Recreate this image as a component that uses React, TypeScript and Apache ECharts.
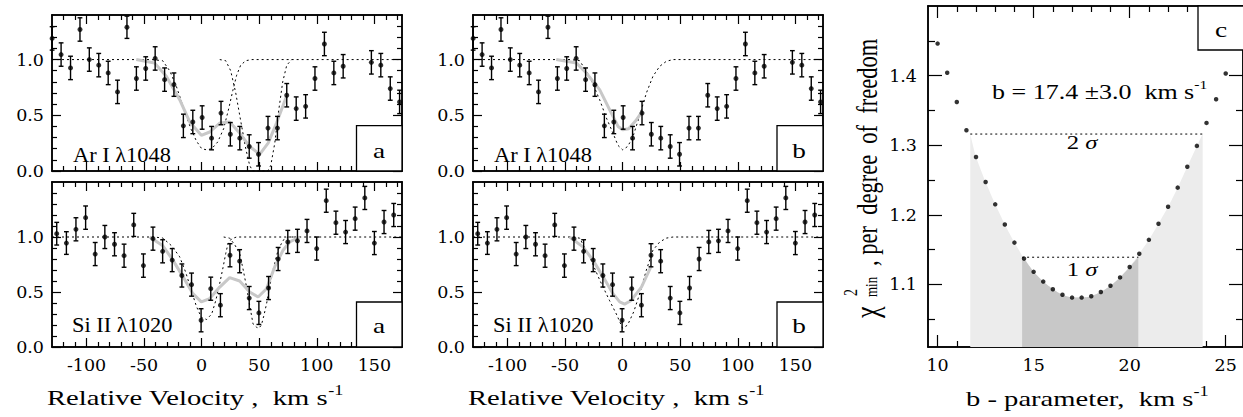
import React, { useEffect, useRef } from 'react';
import * as echarts from 'echarts';

// ---------- axes ----------
const VEL_MIN = -130;
const VEL_MAX = 174;
const velMajor = [-100, -50, 0, 50, 100, 150];
const velMinor = [-120, -110, -90, -80, -70, -60, -40, -30, -20, -10, 10, 20, 30, 40, 60, 70, 80, 90, 110, 120, 130, 140, 160, 170];
const fluxMajor = [0, 0.5, 1.0];
const fluxMinorTop = [0.1, 0.2, 0.3, 0.4, 0.6, 0.7, 0.8, 0.9, 1.1, 1.2, 1.3];
const fluxMinorBottom = [0.1, 0.2, 0.3, 0.4, 0.6, 0.7, 0.8, 0.9, 1.1, 1.2, 1.3, 1.4];
const bMajor = [10, 15, 20, 25];
const bMinor = [11, 12, 13, 14, 16, 17, 18, 19, 21, 22, 23, 24];
const chiMajor = [1.1, 1.2, 1.3, 1.4];
const chiMinor = [1.05, 1.15, 1.25, 1.35, 1.45];

// ---------- Ar I 1048 data ----------
const arVel = [-129.9, -122.1, -113.9, -105.7, -97.6, -89.4, -81.2, -73.1, -64.9, -56.7, -48.6, -40.4, -32.2, -24.1, -15.9, -7.7, 0.4, 8.6, 16.8, 24.9, 33.1, 41.3, 49.4, 57.6, 65.8, 73.9, 82.1, 90.3, 98.4, 106.6, 114.8, 122.9, 131.1, 139.3, 147.4, 155.6, 163.8, 171.9];
const arFlux = [1.19, 1.045, 0.925, 1.27, 1.0, 0.95, 0.88, 0.71, 1.29, 0.83, 0.92, 1.01, 0.82, 0.775, 0.405, 0.44, 0.48, 0.295, 0.52, 0.33, 0.295, 0.22, 0.15, 0.385, 0.385, 0.68, 0.56, 0.58, 0.83, 1.14, 0.88, 0.94, null, null, 0.975, 0.95, 0.74, 0.62];
const arErr = [0.105, 0.105, 0.105, 0.105, 0.105, 0.105, 0.105, 0.105, 0.1, 0.105, 0.105, 0.105, 0.105, 0.105, 0.105, 0.105, 0.105, 0.105, 0.105, 0.105, 0.105, 0.105, 0.105, 0.105, 0.105, 0.105, 0.105, 0.105, 0.105, 0.105, 0.105, 0.105, 0.105, 0.105, 0.105, 0.105, 0.105, 0.105];

// ---------- Si II 1020 data ----------
const siVel = [-125.9, -117.5, -109.2, -100.8, -92.5, -84.1, -75.7, -67.4, -59.0, -50.6, -42.3, -33.9, -25.6, -17.2, -8.8, -0.5, 7.9, 16.3, 24.6, 33.0, 41.3, 49.7, 58.1, 66.4, 74.8, 83.2, 91.5, 99.9, 108.2, 116.6, 125.0, 133.3, 141.7, 150.0, 158.4, 166.8];
const siFlux = [1.03, 0.945, 1.07, 1.176, 0.845, 1.0, 0.934, 0.83, 1.11, 0.74, 0.985, 0.87, 0.79, 0.65, 0.567, 0.243, 0.53, 0.38, 0.834, 0.78, 0.445, 0.31, 0.536, 0.8, 0.955, 0.965, 1.055, 0.895, 1.33, 1.13, 1.045, 1.167, 1.355, 0.945, 1.136, 1.2];
const siErr = [0.103, 0.103, 0.105, 0.106, 0.105, 0.105, 0.105, 0.105, 0.105, 0.106, 0.105, 0.105, 0.105, 0.105, 0.105, 0.105, 0.105, 0.105, 0.105, 0.105, 0.105, 0.105, 0.105, 0.105, 0.105, 0.105, 0.105, 0.105, 0.105, 0.105, 0.105, 0.105, 0.105, 0.105, 0.105, 0.105];

// ---------- model (a): two components ----------
const arC1Vel = [-130, -43.5, -33.9, -27.8, -22, -17.4, -13.3, -9, -4.6, 0, 4.3, 8.7, 13.9, 19.1, 23.5, 27, 30.4, 33.9, 38.3, 43.5, 174];
const arC1Flux = [1.0, 1.0, 0.99, 0.9, 0.76, 0.62, 0.49, 0.37, 0.27, 0.2, 0.19, 0.2, 0.26, 0.38, 0.56, 0.72, 0.86, 0.95, 0.99, 1.0, 1.0];
const arC2Vel = [15.7, 20.9, 25.2, 29.6, 33.9, 38.3, 41.7, 44.3, 57.4, 60, 63.5, 67, 70.4, 73.9, 78.3];
const arC2Flux = [1.0, 0.99, 0.9, 0.7, 0.45, 0.2, 0.05, 0.0, 0.0, 0.05, 0.25, 0.55, 0.8, 0.95, 1.0];
const arFitAVel = [-56.8, -40.9, -30.7, -19.1, -10.4, -0.3, 7, 15.7, 24.3, 33, 41.7, 50.4, 57.7, 65, 73.7];
const arFitAFlux = [1.0, 0.97, 0.85, 0.64, 0.44, 0.32, 0.35, 0.43, 0.44, 0.34, 0.22, 0.15, 0.25, 0.43, 0.67];

const siC1Vel = [-130, -40.9, -33.7, -26.1, -19.1, -13.9, -9, -4.6, -0.3, 4.3, 8.7, 12.2, 15.7, 18.5, 20.9, 22.9, 26.1, 30.4, 174];
const siC1Flux = [1.0, 1.0, 0.99, 0.92, 0.82, 0.68, 0.515, 0.37, 0.27, 0.25, 0.3, 0.42, 0.58, 0.72, 0.85, 0.94, 0.985, 1.0, 1.0];
const siC2Vel = [19.1, 24.3, 28.7, 33, 36.1, 38.9, 41.7, 44.6, 47.6, 49.6, 51.9, 53.9, 56.3, 59.1, 62, 66.3, 70.7, 75, 80.9];
const siC2Flux = [1.0, 0.99, 0.93, 0.85, 0.7, 0.55, 0.38, 0.21, 0.18, 0.17, 0.2, 0.28, 0.39, 0.55, 0.7, 0.88, 0.97, 1.0, 1.0];
const siFitAVel = [-45.2, -33.7, -25, -16.3, -7.6, -0.3, 7, 15.7, 24.3, 33, 41.7, 49, 56.3, 63.5, 70.7, 76.5, 85.2];
const siFitAFlux = [1.0, 0.92, 0.79, 0.64, 0.485, 0.41, 0.44, 0.545, 0.63, 0.6, 0.5, 0.455, 0.53, 0.73, 0.88, 0.955, 1.0];

// ---------- model (b): one component ----------
const arPrBVel = [-130, -45.2, -37.4, -28.7, -20, -14.3, -8.4, -4.1, 0, 4.3, 8.7, 14.8, 20.6, 26.3, 32.2, 38, 43.7, 174];
const arPrBFlux = [1.0, 1.0, 0.99, 0.85, 0.64, 0.48, 0.34, 0.23, 0.19, 0.22, 0.3, 0.5, 0.7, 0.85, 0.94, 0.985, 1.0, 1.0];
const arFitBVel = [-57.7, -40.3, -31.6, -20, -11.3, -4, 0, 5.2, 11.3, 16];
const arFitBFlux = [1.0, 0.97, 0.88, 0.73, 0.55, 0.4, 0.37, 0.38, 0.45, 0.52];

const siPrBVel = [-130, -45.2, -37.4, -28.7, -20, -11.3, -5.5, 0, 4.3, 9.6, 14.8, 20.6, 26.3, 32.2, 38, 43.7, 174];
const siPrBFlux = [1.0, 1.0, 0.99, 0.82, 0.61, 0.42, 0.3, 0.17, 0.2, 0.32, 0.485, 0.7, 0.88, 0.955, 0.99, 1.0, 1.0];
const siFitBVel = [-46.1, -34.5, -25.8, -17.1, -8.4, -2.6, 1.7, 7, 16.3, 25];
const siFitBFlux = [1.0, 0.91, 0.79, 0.64, 0.485, 0.41, 0.39, 0.42, 0.545, 0.74];

// ---------- panel c ----------
const bParam = [10, 10.5, 11, 11.5, 12, 12.5, 13, 13.5, 14, 14.5, 15, 15.5, 16, 16.5, 17, 17.5, 18, 18.5, 19, 19.5, 20, 20.5, 21, 21.5, 22, 22.5, 23, 23.5, 24, 24.5, 25];
const chi2 = [1.446, 1.404, 1.362, 1.3215, 1.283, 1.247, 1.215, 1.186, 1.16, 1.137, 1.118, 1.104, 1.093, 1.085, 1.081, 1.081, 1.083, 1.089, 1.098, 1.11, 1.125, 1.144, 1.164, 1.187, 1.2115, 1.239, 1.269, 1.299, 1.332, 1.366, 1.403];
const sigma2Level = 1.316;
const sigma2Range = [11.7, 23.8];
const sigma1Level = 1.139;
const sigma1Range = [14.4, 20.45];

const FT = "'DejaVu Serif', serif"; // tick labels
const FS = "'Liberation Serif', 'Times New Roman', serif"; // annotations
const SX = 1.3; // horizontal stretch of the original lettering

function axes4(dim: 'x' | 'y', grid: number, min: number, max: number, major: number[], minor: number[], showLabel: boolean, majLen: number, minLen: number, fmt: (v: number) => string, margin: number) {
  const sides = dim === 'x' ? ['bottom', 'top'] : ['left', 'right'];
  const out: any[] = [];
  for (const side of sides) {
    for (const isMajor of [true, false]) {
      out.push({
        type: 'value', gridIndex: grid, min, max, position: side,
        axisLine: { show: true, onZero: false, lineStyle: { color: '#000', width: 1.5 } },
        axisTick: { show: true, inside: true, length: isMajor ? majLen : minLen, customValues: isMajor ? major : minor, lineStyle: { color: '#000', width: 1.2 } },
        axisLabel: { show: showLabel && isMajor && side === sides[0], customValues: major, formatter: fmt, color: '#000', fontFamily: FT, fontSize: 17.5, margin },
        splitLine: { show: false }, splitArea: { show: false },
      });
    }
  }
  return out;
}

function pairs(xs: number[], ys: (number | null)[]) {
  return xs.map((x, i) => [x, ys[i]]);
}

function lineS(p: number, xs: number[], ys: number[], style: any, z: number) {
  return { type: 'line', xAxisIndex: 4 * p, yAxisIndex: 4 * p, data: pairs(xs, ys), showSymbol: false, symbol: 'none', lineStyle: style, z, silent: true };
}

const dotted = { color: '#000', width: 1, type: [2, 3] };
const grayFit = { color: '#c8c8c8', width: 3 };

function errS(p: number, xs: number[], ys: (number | null)[], es: number[]) {
  const data = xs.map((x, i) => [x, ys[i], es[i]]).filter((d) => d[1] != null);
  return {
    type: 'custom', xAxisIndex: 4 * p, yAxisIndex: 4 * p, data, z: 5, silent: true,
    encode: { x: 0, y: 1 },
    renderItem: (params: any, api: any) => {
      const x = api.value(0), y = api.value(1), e = api.value(2);
      const t = api.coord([x, y + e]);
      const b = api.coord([x, y - e]);
      const w = 2.4;
      const st = { stroke: '#000', lineWidth: 1.4 };
      return {
        type: 'group', children: [
          { type: 'line', shape: { x1: t[0], y1: t[1], x2: b[0], y2: b[1] }, style: st },
          { type: 'line', shape: { x1: t[0] - w, y1: t[1], x2: t[0] + w, y2: t[1] }, style: st },
          { type: 'line', shape: { x1: b[0] - w, y1: b[1], x2: b[0] + w, y2: b[1] }, style: st },
        ],
      };
    },
  };
}

function ptS(p: number, xs: number[], ys: (number | null)[], size: number) {
  return { type: 'scatter', xAxisIndex: 4 * p, yAxisIndex: 4 * p, data: pairs(xs, ys).filter((d) => d[1] != null), symbol: 'circle', symbolSize: size, itemStyle: { color: '#000' }, z: 6, silent: true };
}

function txt(x: number, y: number, text: string, size: number, align = 'left', rich?: any, sx = SX) {
  return {
    type: 'text', x, y, z: 100, scaleX: sx,
    style: { text, fontFamily: FS, fontSize: size, fill: '#000', align, textAlign: align, verticalAlign: 'middle', textVerticalAlign: 'middle', rich },
  };
}

function box(x: number, y: number, w: number, h: number) {
  return { type: 'rect', z: 99, shape: { x, y, width: w, height: h }, style: { fill: '#fff', stroke: '#000', lineWidth: 1.3 } };
}

function supRich(size: number) {
  return {
    n: { fontFamily: FS, fontSize: size, lineHeight: size + 6, verticalAlign: 'middle' },
    s: { fontFamily: FS, fontSize: Math.round(size * 0.62), lineHeight: size + 6, verticalAlign: 'top' },
  };
}

function buildOption() {
  const grids = [
    { left: 52, top: 15, width: 350, height: 156 },
    { left: 52, top: 182, width: 350, height: 165 },
    { left: 473, top: 15, width: 350, height: 156 },
    { left: 473, top: 182, width: 350, height: 165 },
    { left: 928, top: 6, width: 317, height: 341 },
  ];
  const f1 = (v: number) => v.toFixed(1);
  const f0 = (v: number) => String(v);
  const xAxis: any[] = [];
  const yAxis: any[] = [];
  for (let p = 0; p < 4; p++) {
    const bottom = p % 2 === 1;
    xAxis.push(...axes4('x', p, VEL_MIN, VEL_MAX, velMajor, velMinor, bottom, 9, 5, f0, 9));
    yAxis.push(...axes4('y', p, 0, bottom ? 1.5 : 1.4, fluxMajor, bottom ? fluxMinorBottom : fluxMinorTop, true, 9, 5, f1, 8));
  }
  xAxis.push(...axes4('x', 4, 9.5, 25.9, bMajor, bMinor, true, 12, 6, f0, 9));
  yAxis.push(...axes4('y', 4, 1.01, 1.5, chiMajor, chiMinor, true, 14, 7, f1, 11));

  const series: any[] = [];
  series.push(lineS(0, arC1Vel, arC1Flux, dotted, 2), lineS(0, arC2Vel, arC2Flux, dotted, 2), lineS(0, arFitAVel, arFitAFlux, grayFit, 3));
  series.push(errS(0, arVel, arFlux, arErr), ptS(0, arVel, arFlux, 5));
  series.push(lineS(1, siC1Vel, siC1Flux, dotted, 2), lineS(1, siC2Vel, siC2Flux, dotted, 2), lineS(1, siFitAVel, siFitAFlux, grayFit, 3));
  series.push(errS(1, siVel, siFlux, siErr), ptS(1, siVel, siFlux, 5));
  series.push(lineS(2, arPrBVel, arPrBFlux, dotted, 2), lineS(2, arFitBVel, arFitBFlux, grayFit, 3));
  series.push(errS(2, arVel, arFlux, arErr), ptS(2, arVel, arFlux, 5));
  series.push(lineS(3, siPrBVel, siPrBFlux, dotted, 2), lineS(3, siFitBVel, siFitBFlux, grayFit, 3));
  series.push(errS(3, siVel, siFlux, siErr), ptS(3, siVel, siFlux, 5));

  const lightArea: number[][] = [[sigma2Range[0], sigma2Level]];
  const darkArea: number[][] = [[sigma1Range[0], sigma1Level]];
  bParam.forEach((b, i) => {
    if (b > sigma2Range[0] && b < sigma2Range[1]) lightArea.push([b, chi2[i]]);
    if (b > sigma1Range[0] && b < sigma1Range[1]) darkArea.push([b, chi2[i]]);
  });
  lightArea.push([sigma2Range[1], sigma2Level]);
  darkArea.push([sigma1Range[1], sigma1Level]);
  series.push({ type: 'line', xAxisIndex: 16, yAxisIndex: 16, data: lightArea, showSymbol: false, symbol: 'none', smooth: 0.2, lineStyle: { width: 0, color: '#ececec' }, areaStyle: { color: '#ececec', origin: 'start', opacity: 1 }, z: 1, silent: true });
  series.push({ type: 'line', xAxisIndex: 16, yAxisIndex: 16, data: darkArea, showSymbol: false, symbol: 'none', smooth: 0.2, lineStyle: { width: 0, color: '#c8c8c8' }, areaStyle: { color: '#c8c8c8', origin: 'start', opacity: 1 }, z: 2, silent: true });
  series.push({ type: 'line', xAxisIndex: 16, yAxisIndex: 16, data: [[sigma2Range[0], sigma2Level], [sigma2Range[1], sigma2Level]], showSymbol: false, symbol: 'none', lineStyle: dotted, z: 3, silent: true });
  series.push({ type: 'line', xAxisIndex: 16, yAxisIndex: 16, data: [[sigma1Range[0], sigma1Level], [sigma1Range[1], sigma1Level]], showSymbol: false, symbol: 'none', lineStyle: dotted, z: 3, silent: true });
  series.push({ type: 'scatter', xAxisIndex: 16, yAxisIndex: 16, data: pairs(bParam, chi2), symbol: 'circle', symbolSize: 4.5, itemStyle: { color: '#000' }, z: 6, silent: true });

  const sigRich = { n: { fontFamily: FS, fontSize: 19 }, i: { fontFamily: FS, fontSize: 19, fontStyle: 'italic' } };

  const graphic: any[] = [
    box(356.5, 125.7, 45.5, 45.3), txt(379, 151, 'a', 21, 'center'),
    box(356.5, 302, 45.5, 45), txt(379, 326, 'a', 21, 'center'),
    box(777, 125.7, 46, 45.3), txt(799, 151, 'b', 21, 'center'),
    box(777, 302, 46, 45), txt(799, 326, 'b', 21, 'center'),
    box(1198, 6, 50, 44), txt(1221, 30, 'c', 21, 'center'),
    txt(73, 155, 'Ar I λ1048', 20, 'left', undefined, 1.12),
    txt(72, 325, 'Si II λ1020', 20, 'left', undefined, 1.12),
    txt(494, 155, 'Ar I λ1048', 20, 'left', undefined, 1.12),
    txt(493, 325, 'Si II λ1020', 20, 'left', undefined, 1.12),
    txt(47, 398, '{n|Relative Velocity ,  km s}{s|-1}', 22, 'left', supRich(22)),
    txt(468, 398, '{n|Relative Velocity ,  km s}{s|-1}', 22, 'left', supRich(22)),
    txt(966, 399, '{n|b - parameter,  km s}{s|-1}', 22, 'left', supRich(22)),
    txt(992, 92, '{n|b = 17.4 ±3.0  km s}{s|-1}', 20, 'left', supRich(20)),
    txt(1082, 143, '{n|2 }{i|σ}', 19, 'center', sigRich),
    txt(1082, 270, '{n|1 }{i|σ}', 19, 'center', sigRich),
    {
      type: 'group', x: 867, y: 318, rotation: Math.PI / 2, scaleY: SX, z: 100,
      children: [
        { type: 'text', x: 0, y: 0, z: 100, style: { text: 'χ', fontFamily: FS, fontSize: 26, fill: '#000', align: 'left', verticalAlign: 'middle' } },
        { type: 'text', x: 22, y: -12, z: 100, style: { text: '2', fontFamily: FS, fontSize: 14, fill: '#000', align: 'left', verticalAlign: 'middle' } },
        { type: 'text', x: 21, y: 3, z: 100, style: { text: 'min', fontFamily: FS, fontSize: 13, fill: '#000', align: 'left', verticalAlign: 'middle' } },
        { type: 'text', x: 52, y: 0, z: 100, style: { text: ', per  degree  of  freedom', fontFamily: FS, fontSize: 22.5, fill: '#000', align: 'left', verticalAlign: 'middle' } },
      ],
    },
  ];

  return { animation: false, backgroundColor: '#fff', grid: grids, xAxis, yAxis, series, graphic };
}

export default function App() {
  const ref = useRef<HTMLDivElement>(null);
  useEffect(() => {
    const chart = echarts.init(ref.current!, null, { renderer: 'svg' });
    chart.setOption(buildOption() as any);
    return () => chart.dispose();
  }, []);
  return <div ref={ref} style={{ position: 'fixed', left: 0, top: 0, width: 1243, height: 417, background: '#fff' }} />;
}
